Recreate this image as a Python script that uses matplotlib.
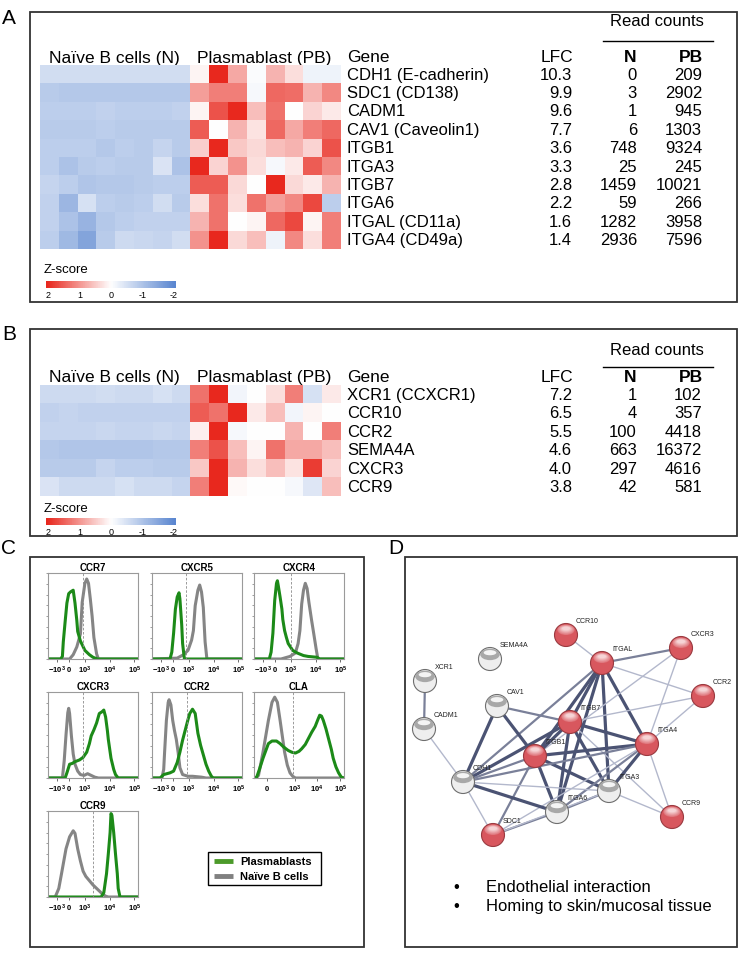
import numpy as np
import matplotlib
matplotlib.use('Agg')
import matplotlib.pyplot as plt
from matplotlib.colors import LinearSegmentedColormap, to_rgb
from matplotlib.patches import Rectangle, Circle, Ellipse

plt.rcParams['font.family'] = ['Liberation Sans', 'DejaVu Sans']
plt.rcParams['mathtext.fontset'] = 'custom'
plt.rcParams['mathtext.rm'] = 'Liberation Sans'
plt.rcParams['mathtext.bf'] = 'Liberation Sans:bold'

# ---------------- data: panel A ----------------
genes_a = ['CDH1 (E-cadherin)', 'SDC1 (CD138)', 'CADM1', 'CAV1 (Caveolin1)', 'ITGB1',
           'ITGA3', 'ITGB7', 'ITGA6', 'ITGAL (CD11a)', 'ITGA4 (CD49a)']
lfc_a = [10.3, 9.9, 9.6, 7.7, 3.6, 3.3, 2.8, 2.2, 1.6, 1.4]
reads_n_a = [0, 3, 1, 6, 748, 25, 1459, 59, 1282, 2936]
reads_pb_a = [209, 2902, 945, 1303, 9324, 245, 10021, 266, 3958, 7596]
z_naive_a = [
    [-0.55, -0.55, -0.55, -0.55, -0.55, -0.55, -0.55, -0.55],
    [-0.85, -0.9, -0.9, -0.9, -0.9, -0.9, -0.9, -0.9],
    [-0.8, -0.8, -0.8, -0.75, -0.8, -0.8, -0.8, -0.75],
    [-0.85, -0.85, -0.85, -0.8, -0.85, -0.85, -0.85, -0.85],
    [-0.8, -0.8, -0.8, -0.9, -0.8, -0.85, -0.7, -0.85],
    [-0.8, -1.0, -0.85, -0.8, -0.85, -0.85, -0.45, -1.0],
    [-0.7, -0.8, -0.95, -0.9, -0.9, -0.85, -0.8, -0.8],
    [-0.75, -1.2, -0.5, -0.8, -0.85, -0.8, -0.55, -0.85],
    [-0.75, -1.0, -1.25, -0.9, -0.8, -0.75, -0.75, -0.75],
    [-0.8, -1.15, -1.5, -0.85, -0.6, -0.65, -0.7, -0.55],
]
z_pb_a = [
    [0.1, 2.0, 0.8, -0.05, 0.7, 0.3, -0.2, -0.2],
    [0.9, 1.2, 1.2, -0.1, 1.4, 1.35, 0.7, 1.1],
    [0.1, 1.6, 2.0, 0.6, 1.3, 0.0, 0.4, 0.2],
    [1.5, 0.0, 0.7, 0.25, 1.4, 0.8, 1.2, 1.4],
    [0.45, 2.0, 0.5, 0.35, 0.6, 0.7, 0.4, 1.6],
    [2.0, 0.4, 1.0, 0.3, -0.1, 0.2, 1.5, 1.1],
    [1.5, 1.5, 0.35, 0.0, 2.0, 0.35, 0.2, 0.7],
    [0.3, 1.3, 0.3, 1.3, 0.9, 1.1, 1.7, -0.8],
    [0.7, 1.3, 0.0, 0.1, 1.4, 1.7, 0.1, 1.2],
    [1.0, 2.0, 0.35, 0.6, -0.2, 1.1, 0.3, 1.2],
]

# ---------------- data: panel B ----------------
genes_b = ['XCR1 (CCXCR1)', 'CCR10', 'CCR2', 'SEMA4A', 'CXCR3', 'CCR9']
lfc_b = [7.2, 6.5, 5.5, 4.6, 4.0, 3.8]
reads_n_b = [1, 4, 100, 663, 297, 42]
reads_pb_b = [102, 357, 4418, 16372, 4616, 581]
z_naive_b = [
    [-0.6, -0.6, -0.6, -0.55, -0.6, -0.6, -0.5, -0.6],
    [-0.75, -0.7, -0.75, -0.75, -0.75, -0.75, -0.75, -0.75],
    [-0.7, -0.7, -0.7, -0.65, -0.7, -0.7, -0.65, -0.7],
    [-0.9, -0.95, -0.95, -0.95, -0.95, -0.95, -0.9, -0.9],
    [-0.85, -0.85, -0.85, -0.7, -0.8, -0.8, -0.85, -0.85],
    [-0.45, -0.6, -0.6, -0.6, -0.5, -0.6, -0.6, -0.7],
]
z_pb_b = [
    [1.3, 2.0, -0.15, 0.0, 0.3, 1.2, -0.5, 0.2],
    [1.5, 1.3, 2.0, 0.2, 0.6, -0.15, 0.1, 0.0],
    [0.15, 2.0, -0.1, 0.0, 0.0, 0.7, 0.0, 1.2],
    [1.2, 1.6, 0.6, 0.1, 1.3, 0.8, 0.8, 0.6],
    [0.5, 2.0, 0.7, 0.3, 0.6, 0.25, 1.8, 0.4],
    [1.2, 2.0, 0.05, 0.0, 0.0, -0.1, -0.4, 0.6],
]
zscore_ticks = [2, 1, 0, -1, -2]

# ---------------- data: panel C (histograms, x in display units 0-100, y in % of max) ----------------
ccr7_pb_x = [0, 14, 16, 17, 19, 21, 23, 25, 28, 30, 32, 33, 36, 41, 46, 50, 55, 100]
ccr7_pb_y = [0, 0, 3, 20, 43, 65, 76, 78, 80, 65, 45, 32, 21, 10, 5, 2, 0, 0]
ccr7_n_x = [0, 24, 28, 32, 36, 38, 41, 43, 45, 47, 49, 51, 54, 56, 100]
ccr7_n_y = [0, 0, 5, 14, 29, 66, 88, 93, 88, 70, 50, 25, 6, 0, 0]

cxcr5_pb_x = [0, 20, 22, 24, 26, 28, 30, 31, 33, 34, 36, 100]
cxcr5_pb_y = [0, 0, 8, 30, 58, 72, 77, 70, 40, 18, 0, 0]
cxcr5_n_x = [0, 28, 35, 40, 44, 46, 48, 51, 53, 55, 57, 59, 61, 100]
cxcr5_n_y = [0, 1, 5, 10, 22, 33, 62, 80, 86, 78, 60, 20, 0, 0]

cxcr4_pb_x = [0, 17, 19, 21, 23, 25, 26, 27, 29, 31, 32, 34, 36, 38, 43, 48, 55, 60, 70, 73, 100]
cxcr4_pb_y = [0, 0, 8, 30, 68, 88, 91, 85, 72, 58, 46, 33, 25, 18, 10, 7, 4, 3, 2, 0, 0]
cxcr4_n_x = [0, 30, 40, 46, 49, 51, 53, 55, 57, 59, 61, 64, 66, 69, 71, 100]
cxcr4_n_y = [0, 0, 3, 7, 18, 33, 64, 80, 88, 82, 66, 45, 32, 12, 0, 0]

cxcr3_pb_x = [0, 19, 21, 24, 27, 30, 35, 39, 43, 46, 48, 51, 54, 57, 60, 62, 64, 66, 67, 70, 73, 75, 78, 100]
cxcr3_pb_y = [0, 0, 6, 16, 17, 19, 21, 24, 30, 40, 49, 56, 64, 75, 77, 79, 71, 55, 45, 23, 10, 4, 0, 0]
cxcr3_n_x = [0, 16, 18, 20, 22, 23, 24, 26, 28, 30, 33, 36, 40, 44, 48, 52, 56, 100]
cxcr3_n_y = [0, 0, 20, 50, 76, 81, 75, 49, 28, 16, 8, 4, 3, 5, 3, 1, 0, 0]

ccr2_pb_x = [0, 9, 13, 20, 24, 28, 31, 34, 37, 40, 42, 45, 48, 51, 54, 57, 60, 63, 66, 68, 100]
ccr2_pb_y = [0, 0, 4, 6, 8, 18, 30, 44, 56, 68, 75, 80, 75, 52, 38, 27, 16, 8, 2, 0, 0]
ccr2_n_x = [0, 11, 13, 14, 16, 18, 19, 21, 23, 25, 27, 29, 31, 34, 40, 45, 55, 60, 100]
ccr2_n_y = [0, 0, 10, 30, 67, 88, 91, 85, 67, 55, 45, 30, 12, 4, 2, 2, 1, 0, 0]

cla_pb_x = [0, 2, 3, 6, 10, 16, 20, 25, 29, 33, 38, 42, 46, 50, 53, 57, 60, 64, 68, 71, 73, 75, 77,
            80, 83, 86, 88, 91, 94, 97, 100]
cla_pb_y = [0, 0, 1, 10, 23, 40, 43, 43, 40, 36, 32, 30, 29, 31, 34, 39, 45, 53, 60, 68, 73, 72, 67,
            57, 45, 33, 23, 13, 6, 1, 0]
cla_n_x = [0, 2, 5, 10, 16, 20, 23, 26, 29, 34, 37, 40, 43, 46, 100]
cla_n_y = [0, 0, 3, 30, 67, 88, 94, 88, 67, 30, 15, 6, 2, 0, 0]

ccr9_pb_x = [0, 59, 62, 65, 67, 69, 70, 71, 73, 75, 77, 78, 80, 100]
ccr9_pb_y = [0, 0, 5, 27, 50, 75, 97, 95, 75, 50, 27, 10, 0, 0]
ccr9_n_x = [0, 8, 12, 15, 20, 24, 28, 30, 33, 36, 39, 42, 46, 50, 54, 58, 61, 64, 67, 100]
ccr9_n_y = [0, 0, 10, 27, 56, 70, 77, 74, 56, 42, 30, 24, 19, 14, 10, 6, 3, 1, 0, 0]

markers = ['CCR7', 'CXCR5', 'CXCR4', 'CXCR3', 'CCR2', 'CLA', 'CCR9']
gates = [39, 38, 41, 39, 39, 43, 50]
axis_labels_std = [r'$\mathbf{-10^3}$', r'$\mathbf{0}$', r'$\mathbf{10^3}$', r'$\mathbf{10^4}$', r'$\mathbf{10^5}$']
axis_labels_cla = [r'$\mathbf{0}$', r'$\mathbf{10^3}$', r'$\mathbf{10^4}$', r'$\mathbf{10^5}$']

# ---------------- data: panel D (network) ----------------
node_names = ['CCR10', 'CXCR3', 'SEMA4A', 'ITGAL', 'XCR1', 'CCR2', 'CAV1', 'CADM1',
              'ITGB7', 'ITGA4', 'ITGB1', 'CDH1', 'ITGA3', 'ITGA6', 'CCR9', 'SDC1']
node_up = [1, 1, 0, 1, 0, 1, 0, 0, 1, 1, 1, 0, 0, 0, 1, 1]
edges = [
    ('XCR1', 'CADM1', 2), ('CADM1', 'CDH1', 1), ('CCR10', 'ITGAL', 1), ('ITGAL', 'CXCR3', 2),
    ('ITGAL', 'CCR2', 1), ('ITGAL', 'ITGB7', 3), ('ITGAL', 'ITGB1', 3), ('ITGAL', 'ITGA4', 3),
    ('ITGAL', 'ITGA3', 3), ('ITGAL', 'ITGA6', 3), ('ITGAL', 'CDH1', 2), ('CXCR3', 'ITGB1', 1),
    ('CXCR3', 'ITGA4', 1), ('CCR2', 'ITGB7', 1), ('CCR2', 'ITGA4', 1), ('CAV1', 'ITGB7', 2),
    ('CAV1', 'ITGB1', 3), ('CAV1', 'CDH1', 3), ('ITGB7', 'ITGB1', 3), ('ITGB7', 'ITGA4', 3),
    ('ITGB7', 'ITGA3', 3), ('ITGB7', 'ITGA6', 3), ('ITGB7', 'CDH1', 3), ('ITGB7', 'CCR9', 1),
    ('ITGB1', 'ITGA4', 3), ('ITGB1', 'ITGA3', 3), ('ITGB1', 'ITGA6', 3), ('ITGB1', 'CDH1', 2),
    ('ITGB1', 'SDC1', 2), ('ITGA4', 'CDH1', 2), ('ITGA4', 'ITGA3', 3), ('ITGA4', 'ITGA6', 2),
    ('ITGA4', 'CCR9', 1), ('ITGA4', 'SDC1', 1), ('CDH1', 'ITGA3', 1), ('CDH1', 'ITGA6', 3),
    ('CDH1', 'SDC1', 1), ('ITGA3', 'CCR9', 1), ('ITGA3', 'ITGA6', 2), ('ITGA6', 'SDC1', 2),
    ('ITGA3', 'SDC1', 1),
]
bullets = ['Endothelial interaction', 'Homing to skin/mucosal tissue']

# ---------------- layout (pixels, top-left origin) ----------------
W, H = 739, 954
fig = plt.figure(figsize=(W / 100, H / 100), dpi=100)


def rect(x0, y0, x1, y1):
    return [x0 / W, 1 - y1 / H, (x1 - x0) / W, (y1 - y0) / H]


ov = fig.add_axes([0, 0, 1, 1])
ov.set_xlim(0, W)
ov.set_ylim(H, 0)
ov.axis('off')

cmap = LinearSegmentedColormap.from_list('zs', ['#5a86d0', '#ffffff', '#e8281e'])
BOX = '#333333'


def box(x0, y0, x1, y1):
    ov.add_patch(Rectangle((x0, y0), x1 - x0, y1 - y0, fill=False, ec=BOX, lw=1.3))


def table_panel(top, bottom, read_y, line_y, head_y, hm_top, hm_bot, z_y, cb_gap, label,
                genes, lfc, rn, rpb, zn, zpb):
    box(30, top, 737, bottom)
    ov.text(9, top + 5, label, fontsize=15, ha='center', va='center')
    ov.text(657, read_y, 'Read counts', fontsize=12, ha='center', va='center')
    ov.plot([603, 713], [line_y, line_y], color='black', lw=1.0)
    ov.text(49, head_y, 'Naïve B cells (N)', fontsize=12.5, ha='left', va='center')
    ov.text(197, head_y, 'Plasmablast (PB)', fontsize=12.5, ha='left', va='center')
    ov.text(347, head_y, 'Gene', fontsize=12.5, ha='left', va='center')
    ov.text(573, head_y, 'LFC', fontsize=12.5, ha='right', va='center')
    ov.text(636, head_y, 'N', fontsize=12.5, ha='right', va='center', fontweight='bold')
    ov.text(703, head_y, 'PB', fontsize=12.5, ha='right', va='center', fontweight='bold')
    ax = fig.add_axes(rect(40, hm_top, 340, hm_bot))
    data = np.hstack([np.array(zn), np.array(zpb)])
    ax.imshow(data, cmap=cmap, vmin=-2, vmax=2, aspect='auto', interpolation='nearest')
    ax.axis('off')
    n = len(genes)
    rh = (hm_bot - hm_top) / n
    for i in range(n):
        y = hm_top + rh * (i + 0.5)
        ov.text(347, y, genes[i], fontsize=12, ha='left', va='center')
        ov.text(572, y, f'{lfc[i]:.1f}', fontsize=12, ha='right', va='center')
        ov.text(637, y, f'{rn[i]}', fontsize=12, ha='right', va='center')
        ov.text(702, y, f'{rpb[i]}', fontsize=12, ha='right', va='center')
    # z-score colorbar
    ov.text(44, z_y, 'Z-score', fontsize=9.5, ha='left', va='center')
    cb_top = z_y + cb_gap
    cax = fig.add_axes(rect(46, cb_top, 176, cb_top + 7))
    cax.imshow(np.linspace(2, -2, 60)[None, :], cmap=cmap, vmin=-2, vmax=2, aspect='auto')
    cax.axis('off')
    for j, t in enumerate(zscore_ticks):
        ov.text(48 + j * 31.5, cb_top + 14, f'{t}', fontsize=6.5, ha='center', va='center')


table_panel(13, 303, 22, 42, 58, 66, 250, 270, 12, 'A',
            genes_a, lfc_a, reads_n_a, reads_pb_a, z_naive_a, z_pb_a)
table_panel(330, 537, 351, 368, 378, 386, 497, 509, 10, 'B',
            genes_b, lfc_b, reads_n_b, reads_pb_b, z_naive_b, z_pb_b)

# ---------------- panel C ----------------
box(30, 558, 364, 948)
ov.text(9, 549, 'C', fontsize=15, ha='center', va='center')
GREEN = '#1c8a18'
GREY = '#858585'
hist_data = [
    (ccr7_pb_x, ccr7_pb_y, ccr7_n_x, ccr7_n_y),
    (cxcr5_pb_x, cxcr5_pb_y, cxcr5_n_x, cxcr5_n_y),
    (cxcr4_pb_x, cxcr4_pb_y, cxcr4_n_x, cxcr4_n_y),
    (cxcr3_pb_x, cxcr3_pb_y, cxcr3_n_x, cxcr3_n_y),
    (ccr2_pb_x, ccr2_pb_y, ccr2_n_x, ccr2_n_y),
    (cla_pb_x, cla_pb_y, cla_n_x, cla_n_y),
    (ccr9_pb_x, ccr9_pb_y, ccr9_n_x, ccr9_n_y),
]
lefts = [48, 152, 254]
tops = [574, 693, 812]
for k, name in enumerate(markers):
    x0 = lefts[k % 3]
    y0 = tops[k // 3]
    ax = fig.add_axes(rect(x0, y0, x0 + 90, y0 + 86))
    px, py, nx, ny = hist_data[k]
    ax.plot(nx, ny, color=GREY, lw=2.2, solid_joinstyle='round')
    ax.plot(px, py, color=GREEN, lw=2.2, solid_joinstyle='round')
    ax.axvline(gates[k], color='#8a8a8a', lw=0.6, ls=(0, (3, 2)))
    ax.set_xlim(0, 100)
    ax.set_ylim(0, 100)
    for s in ax.spines.values():
        s.set_color('#9a9a9a')
        s.set_linewidth(0.8)
    if name == 'CLA':
        ax.set_xticks([14, 45, 70, 96])
        ax.set_xticklabels(axis_labels_cla)
    else:
        ax.set_xticks([10, 23, 41, 69, 96])
        ax.set_xticklabels(axis_labels_std)
    ax.tick_params(axis='x', labelsize=5.5, length=2, pad=1.5, width=0.6, color='#555555')
    ax.set_yticks(np.arange(0, 101, 12.5))
    ax.set_yticklabels([])
    ax.tick_params(axis='y', length=1.5, width=0.5, color='#777777')
    ax.set_title(name, fontsize=7, fontweight='bold', pad=2.5)

# legend
ov.add_patch(Rectangle((208, 853), 113, 33, fill=False, ec='black', lw=1.0))
ov.plot([214, 233], [862, 862], color='#4c9a2a', lw=3.5, solid_capstyle='butt')
ov.plot([214, 233], [877, 877], color='#808080', lw=3.5, solid_capstyle='butt')
ov.text(240, 862, 'Plasmablasts', fontsize=8, fontweight='bold', ha='left', va='center')
ov.text(240, 877, 'Naïve B cells', fontsize=8, fontweight='bold', ha='left', va='center')

# ---------------- panel D ----------------
box(405, 558, 737, 948)
ov.text(396, 549, 'D', fontsize=15, ha='center', va='center')
node_pos = {
    'CCR10': (566, 636), 'CXCR3': (681, 649), 'SEMA4A': (490, 660), 'ITGAL': (602, 664),
    'XCR1': (425, 682), 'CCR2': (703, 697), 'CAV1': (497, 707), 'CADM1': (424, 730),
    'ITGB7': (570, 723), 'ITGA4': (647, 745), 'ITGB1': (535, 757), 'CDH1': (463, 783),
    'ITGA3': (609, 792), 'ITGA6': (557, 813), 'CCR9': (672, 818), 'SDC1': (493, 836),
}
edge_style = {1: ('#b3b8cc', 1.0), 2: ('#7a8099', 1.6), 3: ('#4b5373', 2.3)}
for a, b, w in edges:
    (xa, ya), (xb, yb) = node_pos[a], node_pos[b]
    c, lw = edge_style[w]
    ov.plot([xa, xb], [ya, yb], color=c, lw=lw, zorder=2, solid_capstyle='round')


def blend(c1, c2, t):
    a = np.array(to_rgb(c1))
    b = np.array(to_rgb(c2))
    return tuple(a * (1 - t) + b * t)


R = 11.5
for name, up in zip(node_names, node_up):
    x, y = node_pos[name]
    if up:
        base, edge, top = '#d8575e', '#9a3a40', '#f6d4d6'
        ov.add_patch(Circle((x, y), R, fc=base, ec=edge, lw=0.8, zorder=5))
        for i in range(8):
            t = i / 7
            ov.add_patch(Ellipse((x, y - R * (0.45 + 0.12 * t)), R * (1.5 - 0.8 * t), R * (0.9 - 0.6 * t),
                                 fc=blend(base, top, 0.25 + 0.75 * t), ec='none', zorder=6))
    else:
        base, edge = '#eeeeee', '#6e6e6e'
        ov.add_patch(Circle((x, y), R, fc=base, ec=edge, lw=0.8, zorder=5))
        ov.add_patch(Ellipse((x, y - R * 0.4), R * 1.7, R * 1.0, fc='#a8a8a8', ec='none', zorder=6))
        ov.add_patch(Ellipse((x, y - R * 0.55), R * 1.1, R * 0.45, fc='#f4f4f4', ec='none', zorder=6))
    ov.text(x + 10, y - 14, name, fontsize=5, ha='left', va='center', zorder=8, color='#222222')

for i, t in enumerate(bullets):
    yy = 888 + 19 * i
    ov.text(456, yy, '•', fontsize=12, ha='center', va='center')
    ov.text(486, yy, t, fontsize=12, ha='left', va='center')

fig.savefig('out.png', dpi=100)
